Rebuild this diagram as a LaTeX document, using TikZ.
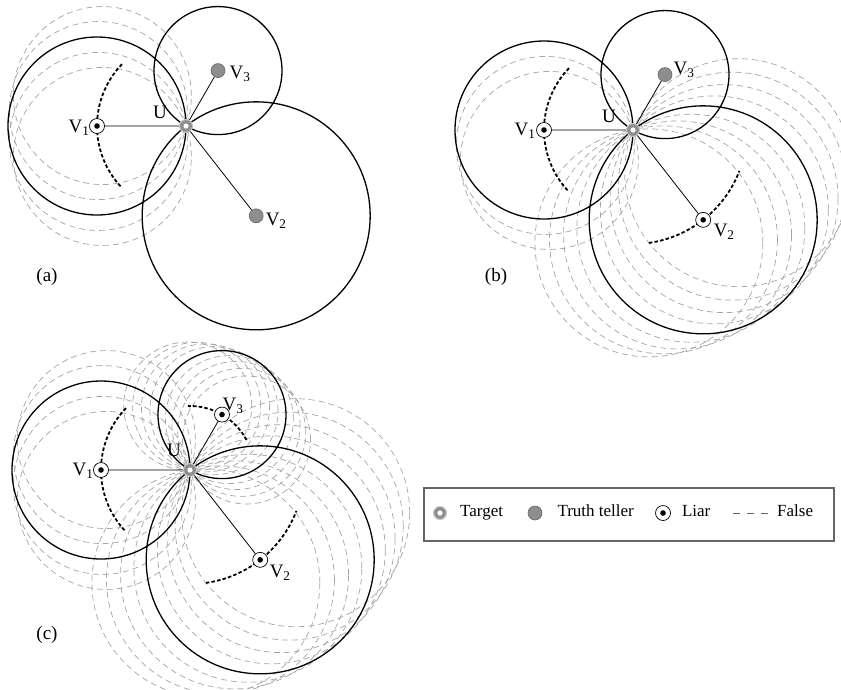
\documentclass[tikz,border=0pt]{standalone}
\usepackage{fontspec}
\setmainfont{Liberation Serif}
\usepackage{tikz}
\usetikzlibrary{positioning,calc,backgrounds}
\definecolor{gris}{HTML}{A4A4A4}
\definecolor{grisosc}{HTML}{666666}
\definecolor{veraz}{HTML}{8E8E8E}
\newcommand{\vn}[1]{V\textsubscript{#1}}

\begin{document}
\begin{tikzpicture}[x=1pt,y=1pt,font=\fontsize{19}{21}\selectfont,
  sol/.style={line width=1.3pt},
  ghost/.style={draw=gris,line width=0.7pt,dash pattern=on 6pt off 4pt},
  locus/.style={line width=1.8pt,dash pattern=on 3.5pt off 2.2pt},
  link/.style={line width=0.8pt},
  target/.style={circle,inner sep=0pt,minimum size=13pt,fill=veraz,draw=gris!60,line width=1pt,
    path picture={\fill[white] (path picture bounding box.center) circle (2.6pt);}},
  truth/.style={circle,inner sep=0pt,minimum size=14pt,fill=veraz,draw=grisosc,line width=0.6pt},
  liar/.style={circle,inner sep=0pt,minimum size=15pt,fill=white,draw=black,line width=0.7pt,
    path picture={\fill[black] (path picture bounding box.center) circle (2.8pt);}},
  lbl/.style={inner sep=1pt},
  key/.style={inner sep=1pt,text height=0.75em,text depth=0.15em,font=\fontsize{17}{20}\selectfont}]
\useasboundingbox (0,0) rectangle (841,-689);

% (a)
\node[target] (Ua) at (186,-126) {};
\node[liar] (V1a) at ($(Ua)+(180:89)$) {};
\node[truth] (V2a) at ($(Ua)+(-52:114)$) {};
\node[truth] (V3a) at ($(Ua)+(60:64)$) {};
\node[lbl] (lUa) at ($(Ua)+(-26,14)$) {U};
\node[lbl] (lV1a) at ($(V1a)+(-18,-2)$) {\vn{1}};
\node[lbl] (lV2a) at ($(V2a)+(20,-5)$) {\vn{2}};
\node[lbl] (lV3a) at ($(V3a)+(22,-3)$) {\vn{3}};
\node[lbl] (capa) at (47,-277) {(a)};
\begin{scope}[on background layer]
  \foreach \d in {-20,-10,10,20} \draw[ghost] ($(Ua)+(180+\d:89)$) circle (89);
  \draw[sol] (V1a) circle (89) (V2a) circle (114) (V3a) circle (64);
  \draw[locus] ($(Ua)+(136:89)$) arc[start angle=136,end angle=224,radius=89];
\end{scope}
\draw[link] (Ua) -- (V1a) (Ua) -- (V2a) (Ua) -- (V3a);

% (b)
\node[target] (Ub) at (633,-130) {};
\node[liar] (V1b) at ($(Ub)+(180:89)$) {};
\node[liar] (V2b) at ($(Ub)+(-52:114)$) {};
\node[truth] (V3b) at ($(Ub)+(60:64)$) {};
\node[lbl] (lUb) at ($(Ub)+(-24,14)$) {U};
\node[lbl] (lV1b) at ($(V1b)+(-19,-1)$) {\vn{1}};
\node[lbl] (lV2b) at ($(V2b)+(21,-12)$) {\vn{2}};
\node[lbl] (lV3b) at ($(V3b)+(19,5)$) {\vn{3}};
\node[lbl] (capb) at (496,-277) {(b)};
\begin{scope}[on background layer]
  \foreach \d in {10,20} \draw[ghost] ($(Ub)+(180+\d:89)$) circle (89);
  \foreach \d in {-30,-22.5,-15,-7.5,7.5,15,22.5,30} \draw[ghost] ($(Ub)+(-52+\d:114)$) circle (114);
  \draw[sol] (V1b) circle (89) (V2b) circle (114) (V3b) circle (64);
  \draw[locus] ($(Ub)+(136:89)$) arc[start angle=136,end angle=224,radius=89];
  \draw[locus] ($(Ub)+(-82:114)$) arc[start angle=-82,end angle=-21,radius=114];
\end{scope}
\draw[link] (Ub) -- (V1b) (Ub) -- (V2b) (Ub) -- (V3b);

% (c)
\node[target] (Uc) at (190,-470) {};
\node[liar] (V1c) at ($(Uc)+(180:89)$) {};
\node[liar] (V2c) at ($(Uc)+(-52:114)$) {};
\node[liar] (V3c) at ($(Uc)+(60:64)$) {};
\node[lbl] (lUc) at ($(Uc)+(-16,20)$) {U};
\node[lbl] (lV1c) at ($(V1c)+(-18,-1)$) {\vn{1}};
\node[lbl] (lV2c) at ($(V2c)+(20,-13)$) {\vn{2}};
\node[lbl] (lV3c) at ($(V3c)+(11,9)$) {\vn{3}};
\node[lbl] (capc) at (47,-635) {(c)};
\begin{scope}[on background layer]
  \foreach \d in {-20,-10,10,20} \draw[ghost] ($(Uc)+(180+\d:89)$) circle (89);
  \foreach \d in {-30,-22.5,-15,-7.5,7.5,15,22.5,30} \draw[ghost] ($(Uc)+(-52+\d:114)$) circle (114);
  \foreach \d in {-32,-24,-16,-8,8,16,24,32} \draw[ghost] ($(Uc)+(60+\d:64)$) circle (64);
  \draw[sol] (V1c) circle (89) (V2c) circle (114) (V3c) circle (64);
  \draw[locus] ($(Uc)+(136:89)$) arc[start angle=136,end angle=224,radius=89];
  \draw[locus] ($(Uc)+(-82:114)$) arc[start angle=-82,end angle=-21,radius=114];
  \draw[locus] ($(Uc)+(28:64)$) arc[start angle=28,end angle=92,radius=64];
\end{scope}
\draw[link] (Uc) -- (V1c) (Uc) -- (V2c) (Uc) -- (V3c);

% legend
\draw[grisosc,line width=1.2pt] (424,-488) rectangle (834,-541);
\node[target] (kt) at (440,-513) {};
\node[key,right=12pt of kt] (ktx) {Target};
\node[truth] (kv) at (535,-513) {};
\node[key,right=14pt of kv] (kvx) {Truth teller};
\node[liar] (kl) at (663,-513) {};
\node[key,right=10pt of kl] (klx) {Liar};
\draw[grisosc,line width=0.7pt,dash pattern=on 7pt off 7pt] (733,-513) -- (768,-513);
\node[key,anchor=west] (kfx) at (776,-513) {False};
\end{tikzpicture}
\end{document}
